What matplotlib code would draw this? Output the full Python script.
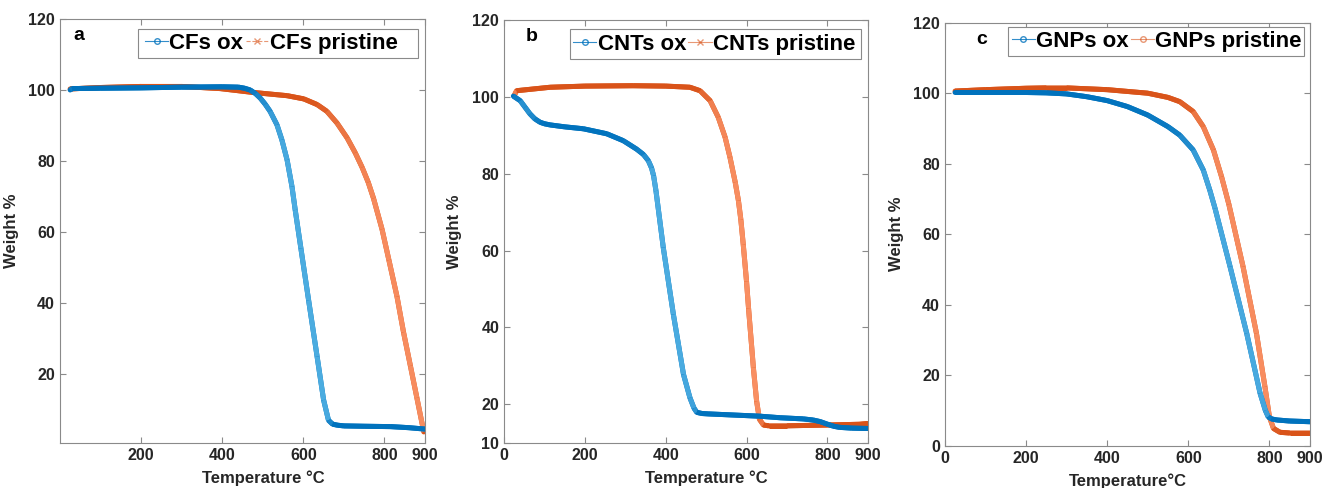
import matplotlib

matplotlib.use("Agg")
import matplotlib.pyplot as plt
import numpy as np
from matplotlib.collections import LineCollection
from matplotlib.colors import to_rgb
from matplotlib.lines import Line2D
from matplotlib.patches import Rectangle

plt.rcParams["font.family"] = ["Liberation Sans", "DejaVu Sans"]
plt.rcParams["font.weight"] = "bold"

BLUE = "#0072BD"
ORANGE = "#D95319"
BLUE_LIGHT = "#5BB8E8"
ORANGE_LIGHT = "#FF9A70"

# panel a: carbon fibres
cf_ox_t = [25, 30, 100, 200, 300, 400, 440, 455, 469, 482, 494, 506, 518, 535, 547,
           560, 572, 580, 594, 613, 634, 650, 662, 672, 684, 700, 750, 815, 860, 900]
cf_ox_w = [100.0, 100.4, 100.5, 100.6, 100.8, 100.9, 100.8, 100.5, 100.0, 99.0, 97.7,
           96.0, 94.0, 90.2, 86.0, 80.3, 72.8, 66.2, 55.4, 40.8, 24.9, 12.7, 7.0, 5.9,
           5.6, 5.4, 5.3, 5.2, 4.9, 4.5]
cf_pr_t = [25, 100, 200, 300, 395, 477, 560, 601, 634, 658, 683, 708, 728, 745,
           760, 773, 794, 811, 831, 847, 864, 880, 897]
cf_pr_w = [100.3, 100.7, 101.0, 101.0, 100.4, 99.3, 98.4, 97.5, 95.9, 94.0, 90.7,
           86.5, 82.3, 78.2, 74.0, 69.5, 60.8, 52.1, 41.8, 31.8, 22.3, 13.3, 3.7]

# panel b: carbon nanotubes
cnt_ox_t = [23, 40, 52, 64, 76, 89, 100, 114, 150, 196, 254, 295, 328, 345, 357,
            365, 370, 376, 394, 419, 444, 460, 470, 477, 490, 505, 633, 683, 740,
            765, 782, 798, 815, 830, 860, 900]
cnt_ox_w = [100.2, 99.0, 97.3, 95.6, 94.3, 93.4, 93.0, 92.7, 92.2, 91.7, 90.4, 88.6,
            86.4, 85.0, 83.4, 81.5, 79.5, 75.5, 60.8, 43.4, 27.8, 21.7, 19.0, 17.9,
            17.6, 17.5, 16.9, 16.5, 16.2, 15.9, 15.5, 14.9, 14.3, 14.0, 13.8, 13.7]
cnt_pr_t = [25, 31, 114, 200, 320, 400, 460, 485, 510, 530, 547, 559, 572, 580,
            586, 592, 600, 605, 617, 625, 632, 642, 655, 700, 800, 880, 900]
cnt_pr_w = [100.3, 101.6, 102.5, 102.8, 102.9, 102.8, 102.5, 101.6, 99.0, 94.7, 89.5,
            84.3, 77.8, 73.0, 68.0, 61.5, 52.0, 45.0, 29.5, 20.8, 16.1, 14.6, 14.4,
            14.4, 14.6, 14.8, 15.0]

# panel c: graphene nanoplatelets
gnp_ox_t = [25, 100, 200, 250, 300, 350, 400, 450, 500, 550, 579, 612, 637, 653,
            666, 703, 744, 777, 790, 797, 805, 818, 850, 900]
gnp_ox_w = [100.2, 100.2, 100.2, 100.1, 99.8, 99.0, 97.9, 96.2, 93.8, 90.5, 88.1,
            83.9, 78.2, 72.5, 67.3, 50.8, 31.9, 14.9, 10.0, 8.2, 7.6, 7.3, 7.0, 6.8]
gnp_pr_t = [25, 100, 200, 250, 300, 400, 500, 550, 579, 612, 637, 662, 682, 700,
            735, 768, 789, 800, 810, 826, 850, 900]
gnp_pr_w = [100.6, 101.0, 101.4, 101.5, 101.5, 101.0, 100.0, 98.8, 97.6, 94.8, 90.5,
            83.9, 76.3, 68.5, 50.8, 31.9, 16.7, 8.2, 4.9, 3.8, 3.6, 3.6]

panels = [
    dict(letter="a", ox=("CFs ox", cf_ox_t, cf_ox_w), pr=("CFs pristine", cf_pr_t, cf_pr_w),
         pr_marker="x", pr_style="--", ylim=(0.5, 120), yticks=[20, 40, 60, 80, 100, 120],
         xticks=[200, 400, 600, 800, 900], xlabel="Temperature °C",
         pos=[0.0453, 0.0916, 0.2757, 0.8695], letter_x=0.052, xlab_x=0.556,
         ylab_x=-0.112, leg=(0.233, 0.942), frame=(0.213, 0.907, 0.982, 0.977)),
    dict(letter="b", ox=("CNTs ox", cnt_ox_t, cnt_ox_w), pr=("CNTs pristine", cnt_pr_t, cnt_pr_w),
         pr_marker="x", pr_style="-", ylim=(10, 120), yticks=[10, 20, 40, 60, 80, 100, 120],
         xticks=[0, 200, 400, 600, 800, 900], xlabel="Temperature °C",
         pos=[0.3807, 0.0928, 0.2747, 0.8662], letter_x=0.076, xlab_x=0.555,
         ylab_x=-0.116, leg=(0.190, 0.943), frame=(0.181, 0.908, 0.982, 0.978)),
    dict(letter="c", ox=("GNPs ox", gnp_ox_t, gnp_ox_w), pr=("GNPs pristine", gnp_pr_t, gnp_pr_w),
         pr_marker="o", pr_style="-", ylim=(0, 120), yticks=[0, 20, 40, 60, 80, 100, 120],
         xticks=[0, 200, 400, 600, 800, 900], xlabel="Temperature°C",
         pos=[0.7137, 0.0867, 0.2757, 0.8668], letter_x=0.10, xlab_x=0.5,
         ylab_x=-0.112, leg=(0.183, 0.956), frame=(0.173, 0.921, 0.984, 0.99)),
]


def dense_marker_line(ax, t, w, base, light, zorder):
    # the original curves are dense open markers: flat parts read solid, steep
    # parts look paler, so fade each segment toward the light tone by steepness
    ax.plot(t, w, color=base, linewidth=3.6, solid_joinstyle="round",
            solid_capstyle="round", zorder=zorder)
    pts = np.column_stack([t, w]).astype(float)
    px = ax.transData.transform(pts)
    d = np.diff(px, axis=0)
    steep = np.abs(d[:, 1]) / np.hypot(d[:, 0], d[:, 1])
    k = 0.85 * steep ** 3
    c0, c1 = np.array(to_rgb(base)), np.array(to_rgb(light))
    colors = c0[None, :] * (1 - k[:, None]) + c1[None, :] * k[:, None]
    segs = np.stack([pts[:-1], pts[1:]], axis=1)
    lc = LineCollection(segs, colors=colors, linewidths=3.6, capstyle="butt",
                        zorder=zorder + 0.1)
    ax.add_collection(lc)


fig = plt.figure(figsize=(13.24, 4.88), dpi=100)

for p in panels:
    ax = fig.add_axes(p["pos"])
    name_ox, t_ox, w_ox = p["ox"]
    name_pr, t_pr, w_pr = p["pr"]

    ax.set_xlim(0, 900)
    ax.set_ylim(*p["ylim"])
    dense_marker_line(ax, t_pr, w_pr, ORANGE, ORANGE_LIGHT, 2)
    dense_marker_line(ax, t_ox, w_ox, BLUE, BLUE_LIGHT, 3)

    ax.set_xticks(p["xticks"])
    ax.set_yticks(p["yticks"])
    ax.tick_params(direction="in", top=True, right=True, length=4, width=0.8,
                   color="#8a8a8a", labelsize=11.5, labelcolor="#262626", pad=3.5)
    for lab in ax.get_xticklabels() + ax.get_yticklabels():
        lab.set_fontweight("bold")
    for s in ax.spines.values():
        s.set_color("#8a8a8a")
        s.set_linewidth(0.8)

    ax.set_xlabel(p["xlabel"], fontsize=12, fontweight="bold", color="#262626")
    ax.xaxis.set_label_coords(p["xlab_x"], -0.065)
    ax.set_ylabel("Weight %", fontsize=12, fontweight="bold", color="#262626")
    ax.yaxis.set_label_coords(p["ylab_x"], 0.5)

    ax.text(p["letter_x"], 0.96, p["letter"], transform=ax.transAxes, fontsize=14,
            fontweight="bold", va="center", ha="center", color="black")

    # legend frame drawn separately so its padding can match the original box
    x0, y0, x1, y1 = p["frame"]
    ax.add_patch(Rectangle((x0, y0), x1 - x0, y1 - y0, transform=ax.transAxes,
                           facecolor="white", edgecolor="#8a8a8a", linewidth=0.8,
                           zorder=5))
    handles = [
        Line2D([], [], color=BLUE, linewidth=0.8, marker="o", markersize=4,
               markerfacecolor="none", alpha=0.8),
        Line2D([], [], color=ORANGE, linewidth=0.8, linestyle=p["pr_style"],
               marker=p["pr_marker"], markersize=4, markerfacecolor="none", alpha=0.6),
    ]
    leg = ax.legend(handles, [name_ox, name_pr], loc="center left",
                    bbox_to_anchor=p["leg"], ncol=2, frameon=False,
                    handlelength=1.05, handletextpad=0.05, columnspacing=0.1,
                    borderpad=0, borderaxespad=0,
                    prop={"weight": "bold", "size": 16})
    leg.set_zorder(6)

fig.savefig("out.png", dpi=100)
